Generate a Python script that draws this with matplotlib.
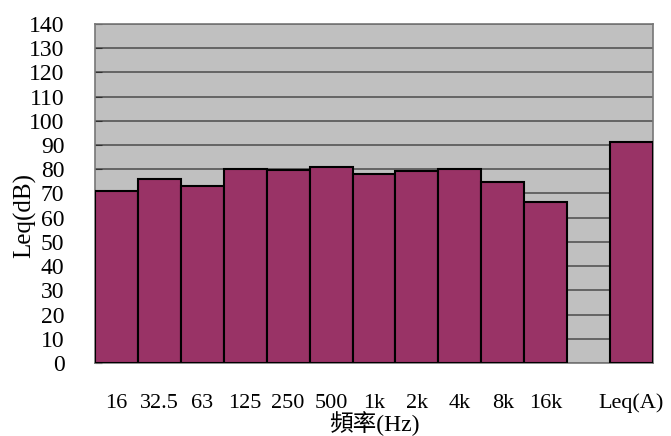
import numpy as np
import matplotlib
matplotlib.use("Agg")
import matplotlib.pyplot as plt

# octave band levels
bands = ['16', '32.5', '63', '125', '250', '500', '1k', '2k', '4k', '8k', '16k', '', 'Leq(A)']
leq = [71.1, 76.0, 73.3, 80.3, 79.7, 81.0, 78.0, 79.2, 80.3, 74.9, 66.5, np.nan, 91.2]
yticks = list(range(0, 141, 10))

serif = ['Liberation Serif', 'Noto Sans CJK TC']

fig = plt.figure(figsize=(6.71, 4.36), dpi=100)
ax = fig.add_axes([0.1416, 0.1674, 0.8316, 0.7776])
ax.set_facecolor('#c0c0c0')

x = np.arange(len(bands))
vals = np.array(leq, dtype=float)
ok = ~np.isnan(vals)
ax.bar(x[ok], vals[ok], width=1.0, color='#993366', edgecolor='black', linewidth=1.5, zorder=3)

ax.set_xlim(-0.5, len(bands) - 0.5)
ax.set_ylim(0, 140)
ax.set_yticks(yticks)
ax.set_yticklabels([str(t) for t in yticks], family=serif, fontsize=17)
ax.yaxis.grid(True, color='#555555', linewidth=1.2, zorder=1)
ax.tick_params(axis='y', direction='in', length=5, pad=22, color='#333333')
ax.set_xticks(x)
ax.set_xticklabels(bands, family=serif, fontsize=16)
ax.tick_params(axis='x', length=0, pad=22)
for s in ax.spines.values():
    s.set_color('#777777')
    s.set_linewidth(1.2)

# axis titles placed by hand, like the original layout
fig.text(374 / 671, 1 - 424 / 436, '頻率(Hz)', family=serif, fontsize=17,
         ha='center', va='center')
fig.text(25 / 671, 1 - 215 / 436, 'Leq(dB)', family=serif, fontsize=18,
         rotation=90, ha='center', va='center')

fig.savefig('out.png', dpi=100)
